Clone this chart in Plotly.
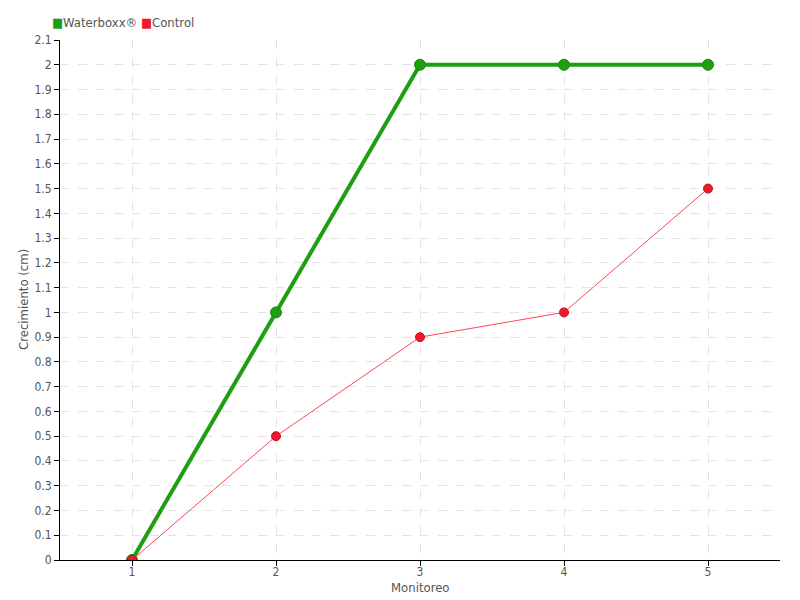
import plotly.graph_objects as go

monitoreo = [1, 2, 3, 4, 5]
waterboxx = [0, 1.0, 2.0, 2.0, 2.0]
control = [0, 0.5, 0.9, 1.0, 1.5]
y_ticks = [0, 0.1, 0.2, 0.3, 0.4, 0.5, 0.6, 0.7, 0.8, 0.9, 1.0, 1.1, 1.2, 1.3, 1.4, 1.5, 1.6, 1.7, 1.8, 1.9, 2.0, 2.1]
y_tick_labels = ["0", "0.1", "0.2", "0.3", "0.4", "0.5", "0.6", "0.7", "0.8", "0.9", "1", "1.1", "1.2", "1.3", "1.4", "1.5", "1.6", "1.7", "1.8", "1.9", "2", "2.1"]
series_names = ["Waterboxx®", "Control"]
x_title = "Monitoreo"
y_title = "Crecimiento (cm)"

FONT = "DejaVu Sans Condensed, Liberation Sans Narrow, DejaVu Sans, sans-serif"
GREEN = "#1f9e14"
RED = "#f0192a"
TXT = "#555555"

fig = go.Figure()
fig.add_trace(go.Scatter(
    x=monitoreo, y=waterboxx, mode="lines+markers", name=series_names[0],
    line=dict(color=GREEN, width=4),
    marker=dict(color=GREEN, size=11, line=dict(color="#178a10", width=1)),
    showlegend=False))
fig.add_trace(go.Scatter(
    x=monitoreo, y=control, mode="lines+markers", name=series_names[1],
    line=dict(color="#ff4455", width=1),
    marker=dict(color=RED, size=9, line=dict(color="#c01020", width=1)),
    showlegend=False))

legend_text = (f"<span style='color:{GREEN}'>■</span>{series_names[0]} "
               f"<span style='color:{RED}'>■</span>{series_names[1]}")
fig.add_annotation(text=legend_text, xref="paper", yref="paper",
                   x=-10 / 720, y=1.0, xanchor="left", yanchor="bottom", yshift=8,
                   showarrow=False, font=dict(size=13, color=TXT))
fig.add_annotation(text=x_title, xref="paper", yref="paper",
                   x=0.5, y=0, xanchor="center", yanchor="middle", yshift=-27,
                   showarrow=False, borderpad=0, font=dict(size=13, color=TXT))
fig.add_annotation(text=y_title, xref="paper", yref="paper",
                   x=0, y=0.5, xanchor="center", yanchor="middle", xshift=-37,
                   textangle=-90, showarrow=False, borderpad=0, font=dict(size=13, color=TXT))

fig.update_layout(
    width=792, height=592,
    margin=dict(l=52, r=20, t=32, b=40),
    paper_bgcolor="white", plot_bgcolor="white",
    font=dict(family=FONT, size=12, color=TXT),
    showlegend=False,
    xaxis=dict(
        range=[0.5, 5.5], tickvals=monitoreo, ticktext=[str(v) for v in monitoreo],
        showline=True, linecolor="black", linewidth=1,
        ticks="outside", ticklen=5, tickcolor="black",
        showgrid=True, gridcolor="#e3e3e3", griddash="dash", gridwidth=1,
        zeroline=False, automargin=False, ticklabelstandoff=-4,
        tickfont=dict(size=12, color=TXT),
    ),
    yaxis=dict(
        range=[0, 2.1], tickvals=y_ticks, ticktext=y_tick_labels,
        showline=True, linecolor="black", linewidth=1,
        ticks="outside", ticklen=5, tickcolor="black",
        showgrid=True, gridcolor="#e3e3e3", griddash="dash", gridwidth=1,
        zeroline=False, automargin=False,
        tickfont=dict(size=12, color=TXT),
    ),
)

fig.write_html("out.html")
